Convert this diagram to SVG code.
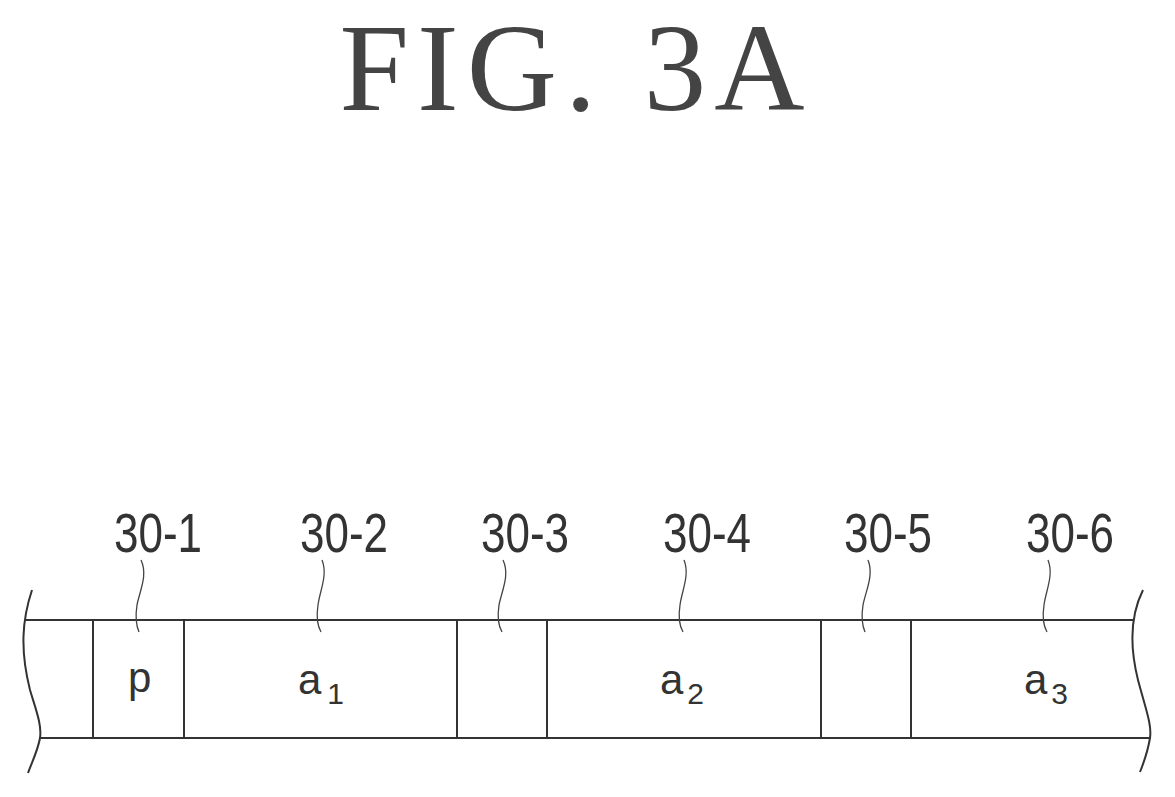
<svg xmlns="http://www.w3.org/2000/svg" width="1175" height="797" viewBox="0 0 1175 797">
<style>
.ln{fill:none;stroke:#333;stroke-width:2}
.th{fill:none;stroke:#444;stroke-width:1.3}
.lb{font-family:"Liberation Sans",Arial,sans-serif;font-size:56px;fill:#333;text-anchor:middle}
.cl{font-family:"Liberation Sans",Arial,sans-serif;font-size:42px;fill:#333}
.sb{font-size:30px}
</style>
<rect width="1175" height="797" fill="#fff"/>
<text x="572" y="110" font-family="'Liberation Serif','Times New Roman',serif" font-size="125" fill="#444" text-anchor="middle" textLength="465" lengthAdjust="spacing">FIG. 3A</text>
<g id="tape">
<path class="ln" d="M25 620 H1133 M40 738 H1150"/>
<path class="ln" d="M32 590 C22 620 20 650 30 690 C36 710 42 725 40 738 C38 750 32 762 28 773"/>
<path class="ln" d="M1143 590 C1133 610 1128 640 1138 680 C1146 710 1152 725 1150 738 C1148 750 1144 762 1140 772"/>
<path class="ln" d="M93 620 V738 M184 620 V738 M457 620 V738 M547 620 V738 M821 620 V738 M911 620 V738"/>
</g>
<g id="cells">
<text class="cl" x="128" y="692">p</text>
<text class="cl" x="298" y="694">a<tspan class="sb" dx="6" dy="10">1</tspan></text>
<text class="cl" x="660" y="694">a<tspan class="sb" dx="4" dy="10">2</tspan></text>
<text class="cl" x="1024" y="694">a<tspan class="sb" dx="4" dy="10">3</tspan></text>
</g>
<g id="labels">
<text class="lb" x="158" y="552" textLength="88" lengthAdjust="spacingAndGlyphs">30-1</text>
<text class="lb" x="344" y="552" textLength="88" lengthAdjust="spacingAndGlyphs">30-2</text>
<text class="lb" x="525" y="552" textLength="88" lengthAdjust="spacingAndGlyphs">30-3</text>
<text class="lb" x="707" y="552" textLength="88" lengthAdjust="spacingAndGlyphs">30-4</text>
<text class="lb" x="888" y="552" textLength="88" lengthAdjust="spacingAndGlyphs">30-5</text>
<text class="lb" x="1070" y="552" textLength="88" lengthAdjust="spacingAndGlyphs">30-6</text>
</g>
<g id="connectors">
<path class="th" d="M141 560 C148 575 140 590 137 605 C135 618 136 625 139 632"/>
<path class="th" d="M322 560 C328 575 320 590 318 605 C316 618 317 625 321 632"/>
<path class="th" d="M503 560 C510 575 502 590 499 605 C497 618 498 625 502 632"/>
<path class="th" d="M684 560 C690 575 682 590 680 605 C678 618 679 625 683 632"/>
<path class="th" d="M868 560 C874 575 866 590 863 605 C861 618 862 625 865 632"/>
<path class="th" d="M1048 560 C1054 575 1046 590 1044 605 C1042 618 1043 625 1047 632"/>
</g>
</svg>
